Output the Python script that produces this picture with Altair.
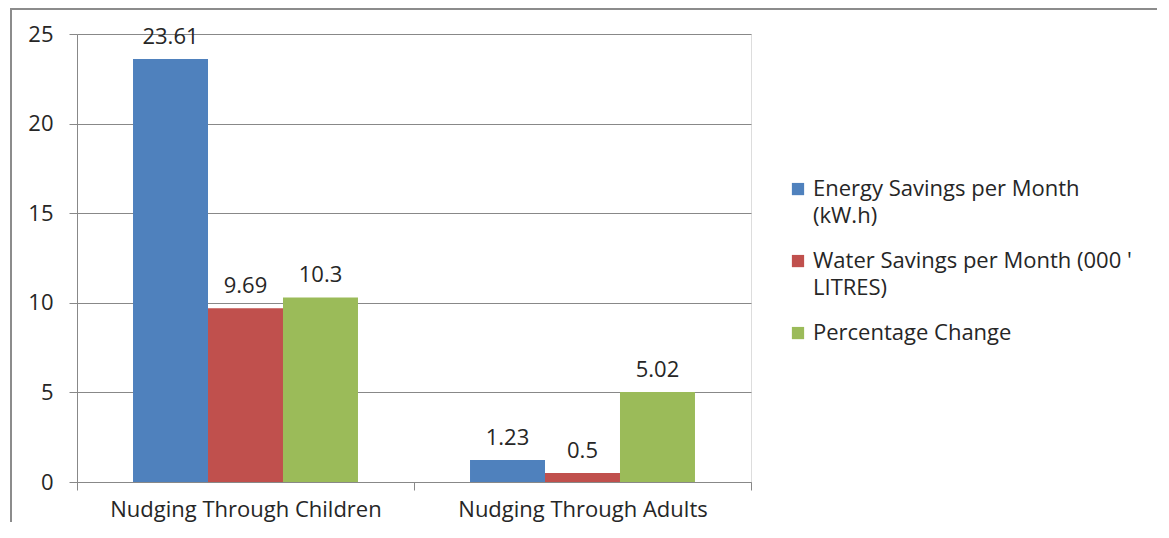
import altair as alt
import pandas as pd

categories = ["Nudging Through Children", "Nudging Through Adults"]
series = [
    "Energy Savings per Month|(kW.h)",
    "Water Savings per Month (000 '|LITRES)",
    "Percentage Change",
]
children_values = [23.61, 9.69, 10.3]
adults_values = [1.23, 0.5, 5.02]
colors = ["#4F81BD", "#C0504D", "#9BBB59"]
y_ticks = [0, 5, 10, 15, 20, 25]

rows = []
for cat, vals in zip(categories, [children_values, adults_values]):
    for s, v in zip(series, vals):
        rows.append({"category": cat, "series": s, "value": v, "label": str(v)})
df = pd.DataFrame(rows)

FONT = "Open Sans"
FS = 22
W, H = 674, 448
GRAY = "#888888"
TXT = "#262626"

x_enc = alt.X("category:N", sort=categories, title=None,
              scale=alt.Scale(paddingInner=0, paddingOuter=0),
              axis=alt.Axis(labelAngle=0, tickBand="extent", tickSize=8,
                            domainColor=GRAY, tickColor=GRAY, labelPadding=9,
                            labelLimit=400, labelFontSize=FS, labelColor=TXT,
                            labelFont=FONT))
xoff = alt.XOffset("series:N", sort=series,
                   scale=alt.Scale(paddingInner=0, paddingOuter=0.747))
y_enc = alt.Y("value:Q", title=None,
              scale=alt.Scale(domain=[0, 25], nice=False),
              axis=alt.Axis(values=y_ticks, tickSize=8, grid=True, gridColor=GRAY,
                            domainColor=GRAY, tickColor=GRAY, labelPadding=16,
                            labelFontSize=FS, labelColor=TXT, labelFont=FONT))

base = alt.Chart(df)

# square symbol shifted down so it lines up with the first line of a wrapped label
square_low = "M-1,0.64L1,0.64L1,2.64L-1,2.64Z"

bars = base.mark_bar().encode(
    x=x_enc, xOffset=xoff, y=y_enc,
    color=alt.Color("series:N", sort=series,
                    scale=alt.Scale(domain=series, range=colors),
                    legend=alt.Legend(title=None, orient="none", legendX=710, legendY=134,
                                      symbolType=square_low, symbolSize=150,
                                      symbolStrokeWidth=0, labelFontSize=FS,
                                      labelFont=FONT, labelColor=TXT,
                                      labelExpr="split(datum.label, '|')",
                                      labelBaseline="top", labelOffset=4,
                                      rowPadding=13, labelLimit=440)),
)

text = base.mark_text(baseline="alphabetic", dy=-15, fontSize=FS, font=FONT,
                      color=TXT).encode(
    x=x_enc, xOffset=xoff, y=y_enc, text="label:N")

frame = alt.Chart(pd.DataFrame({"a": [0]})).mark_rect(
    fill=None, stroke="#8c8c8c", strokeWidth=2).encode(
    x=alt.value(-66), x2=alt.value(W + 600),
    y=alt.value(-25), y2=alt.value(H + 200))

chart = alt.layer(frame, bars, text).properties(
    width=W, height=H,
    autosize=alt.AutoSizeParams(type="none"),
    padding={"left": 69, "top": 26, "right": 406, "bottom": 40},
).configure_view(stroke=None).configure(
    style={"guide-label": {"lineHeight": 27}}
)

chart.save("out.html", embed_options={"renderer": "svg", "actions": False})
